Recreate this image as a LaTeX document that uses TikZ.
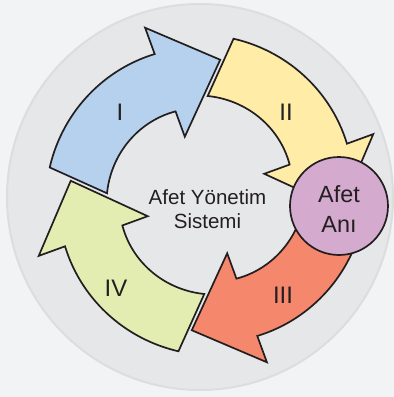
\documentclass[tikz,border=0pt]{standalone}
\usepackage{fontspec}
\setmainfont{Liberation Sans}
\definecolor{bgcol}{HTML}{F2F3F5}
\definecolor{discfill}{HTML}{E6E7E9}
\definecolor{discedge}{HTML}{DCDDDF}
\definecolor{ink}{HTML}{231F20}
\definecolor{blueA}{HTML}{B5D1EE}
\definecolor{yellowA}{HTML}{FEECA7}
\definecolor{redA}{HTML}{F4876C}
\definecolor{greenA}{HTML}{E4EDB1}
\definecolor{purpleA}{HTML}{D4AACE}
\newcommand\cyclearrow[2]{%
  \filldraw[arrowpart, fill=#2, rotate=#1]
    plot[domain=60:0, samples=40] (\x:{150+0.145*\x})
    -- (0:178) -- (-26:136) -- (0:62)
    -- plot[domain=0:69, samples=40] (\x:{89+0.145*\x})
    -- cycle;}
\begin{document}
\begin{tikzpicture}[x=1bp, y=1bp,
  arrowpart/.style={draw=ink, line width=1.7bp, line join=miter},
  numeral/.style={text=ink, font=\fontsize{24}{28}\selectfont, inner sep=0pt},
  systext/.style={text=ink, font=\fontsize{20.6}{24}\selectfont, inner sep=0pt, anchor=base},
  anitext/.style={text=ink, font=\fontsize{23.5}{30}\selectfont, inner sep=0pt, anchor=base},
  anicircle/.style={circle, draw=ink, line width=1.7bp, fill=purpleA, minimum size=98bp, inner sep=0pt}]
\useasboundingbox[fill=bgcol] (-206,-202) rectangle (188,195);
\fill[discfill, draw=discedge, line width=2bp] (-6,-2) circle (193);
\cyclearrow{110}{blueA}
\cyclearrow{20}{yellowA}
\cyclearrow{-70}{redA}
\cyclearrow{-160}{greenA}
\node[anicircle] (afet) at (133,-11) {};
\node[anitext] (afet1) at (133,-7) {Afet};
\node[anitext] (afet2) at (133,-37) {Anı};
\node[systext] (sys1) at (1.5,-9) {Afet Yönetim};
\node[systext] (sys2) at (1.5,-33) {Sistemi};
\node[numeral] (n1) at (-86,83) {I};
\node[numeral] (n2) at (80,83) {II};
\node[numeral] (n3) at (77,-100) {III};
\node[numeral] (n4) at (-90,-93) {IV};
\end{tikzpicture}
\end{document}
